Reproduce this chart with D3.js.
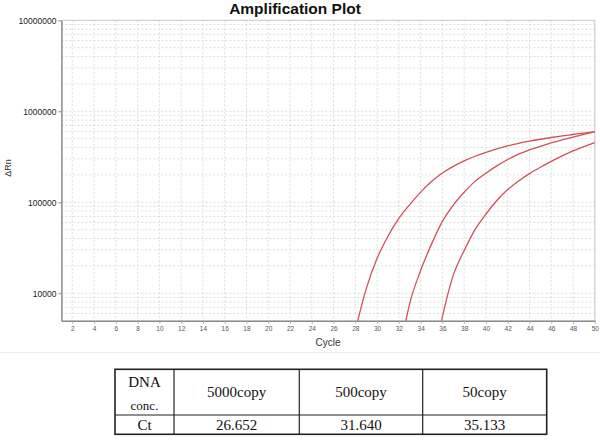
<!DOCTYPE html>
<html>
<head>
<meta charset="utf-8">
<script src="https://cdn.jsdelivr.net/npm/d3@7"></script>
<style>
  html, body { margin: 0; padding: 0; background: #fff; }
  svg { display: block; }
</style>
</head>
<body>
<svg id="chart" width="600" height="447"></svg>
<script>
// ---- data ----
const cycles5000 = [28,29,30,31,32,33,34,35,36,37,38,39,40,41,42,43,44,45,46,47,48,49,50];
const values5000 = [3890,11190,24210,42360,66530,94410,129400,169000,209900,248300,285100,320600,354000,386500,416900,444600,469900,493200,515200,535800,555900,576800,597000];
const cycles500 = [32,33,34,35,36,37,38,39,40,41,42,43,44,45,46,47,48,49,50];
const values500 = [2000,7760,17800,34700,61700,93300,128800,169800,208900,251200,295100,338800,375800,412100,448700,485300,521200,558500,597000];
const cycles50 = [35,36,37,38,39,40,41,42,43,44,45,46,47,48,49,50];
const values50 = [1380,5500,15850,29500,50100,74100,104700,138000,171800,206500,242700,281800,323600,367300,409300,451900];
const xTicks = [2,4,6,8,10,12,14,16,18,20,22,24,26,28,30,32,34,36,38,40,42,44,46,48,50];
const yTicks = [10000,100000,1000000,10000000];
const tableHeader = ["DNA conc.", "5000copy", "500copy", "50copy"];
const tableCt = ["Ct", "26.652", "31.640", "35.133"];

const series = [
  {c: cycles5000, v: values5000},
  {c: cycles500, v: values500},
  {c: cycles50, v: values50}
];

(function () {
// ---- layout ----
const svg = d3.select("#chart");
const pL = 61.4, pR = 594.8, pT = 20.3, pB = 320.7;
const x = d3.scaleLinear().domain([1, 50]).range([pL, pR]);
const y = d3.scaleLog().domain([5000, 10000000]).range([pB, pT]);

// title
svg.append("text")
  .attr("x", 295).attr("y", 13.5)
  .attr("text-anchor", "middle")
  .attr("font-family", "Liberation Sans, Arial, sans-serif")
  .attr("font-weight", "bold")
  .attr("font-size", 15.5)
  .attr("fill", "#111")
  .text("Amplification Plot");

// grid
const grid = svg.append("g");
xTicks.forEach(t => {
  grid.append("line")
    .attr("x1", x(t)).attr("x2", x(t))
    .attr("y1", pT).attr("y2", pB)
    .attr("stroke", "#d4d4d4").attr("stroke-width", 0.8)
    .attr("stroke-dasharray", "2,2");
});
const minorVals = [];
[1000, 10000, 100000, 1000000].forEach(d => {
  for (let m = 1; m <= 9; m++) {
    const v = m * d;
    if (v >= 5000 && v < 10000000) minorVals.push(v);
  }
});
minorVals.forEach(v => {
  grid.append("line")
    .attr("x1", pL).attr("x2", pR)
    .attr("y1", y(v)).attr("y2", y(v))
    .attr("stroke", "#d4d4d4").attr("stroke-width", 0.8)
    .attr("stroke-dasharray", "2,2");
});

// frame (top/right)
svg.append("line").attr("x1", pL).attr("x2", pR).attr("y1", pT).attr("y2", pT)
  .attr("stroke", "#c8c8c8").attr("stroke-width", 1);
svg.append("line").attr("x1", pR).attr("x2", pR).attr("y1", pT).attr("y2", pB)
  .attr("stroke", "#c8c8c8").attr("stroke-width", 1);

// axes
const xAxis = d3.axisBottom(x).tickValues(xTicks).tickSize(3).tickSizeOuter(0);
const gx = svg.append("g").attr("transform", `translate(0,${pB})`).call(xAxis);
gx.select(".domain").attr("stroke", "#8a8a8a").attr("stroke-width", 1.5);
gx.selectAll(".tick line").attr("stroke", "#aaa");
gx.selectAll(".tick text")
  .attr("font-family", "Liberation Sans, Arial, sans-serif")
  .attr("font-size", 6.5).attr("fill", "#555").attr("dy", "0.6em");

const yAxis = d3.axisLeft(y).tickValues(yTicks).tickFormat(d3.format("d")).tickSize(3).tickSizeOuter(0);
const gy = svg.append("g").attr("transform", `translate(${pL},0)`).call(yAxis);
gy.select(".domain").attr("stroke", "#8a8a8a").attr("stroke-width", 1.5);
gy.selectAll(".tick line").attr("stroke", "#888");
gy.selectAll(".tick text")
  .attr("font-family", "Liberation Sans, Arial, sans-serif")
  .attr("font-size", 8.5).attr("fill", "#1a1a1a").attr("x", -5);

// axis titles
svg.append("text")
  .attr("x", 328).attr("y", 346)
  .attr("text-anchor", "middle")
  .attr("font-family", "Liberation Sans, Arial, sans-serif")
  .attr("font-size", 10).attr("fill", "#333")
  .text("Cycle");
svg.append("text")
  .attr("transform", "translate(11,168) rotate(-90)")
  .attr("text-anchor", "middle")
  .attr("font-family", "Liberation Sans, Arial, sans-serif")
  .attr("font-size", 9).attr("fill", "#333")
  .text("ΔRn");

// curves
svg.append("clipPath").attr("id", "clip")
  .append("rect").attr("x", pL).attr("y", pT).attr("width", pR - pL).attr("height", pB - pT);
const line = d3.line()
  .x(d => x(d[0])).y(d => y(d[1]))
  .curve(d3.curveMonotoneX);
const curves = svg.append("g").attr("clip-path", "url(#clip)");
series.forEach(s => {
  curves.append("path")
    .datum(s.c.map((c, i) => [c, s.v[i]]))
    .attr("d", line)
    .attr("fill", "none")
    .attr("stroke", "#d0505a")
    .attr("stroke-width", 1.3);
});

// separator line
svg.append("line").attr("x1", 0).attr("x2", 600).attr("y1", 352.5).attr("y2", 352.5)
  .attr("stroke", "#eeeeee").attr("stroke-width", 1);

// table
const tX = [115, 174, 299.3, 422.7, 546.7];
const tY = [369.3, 415, 434.3];
const tg = svg.append("g");
tg.append("rect").attr("x", tX[0]).attr("y", tY[0])
  .attr("width", tX[4] - tX[0]).attr("height", tY[2] - tY[0])
  .attr("fill", "none").attr("stroke", "#222").attr("stroke-width", 1.6);
tg.append("line").attr("x1", tX[0]).attr("x2", tX[4]).attr("y1", tY[1]).attr("y2", tY[1])
  .attr("stroke", "#222").attr("stroke-width", 1.2);
[1, 2, 3].forEach(i => {
  tg.append("line").attr("x1", tX[i]).attr("x2", tX[i]).attr("y1", tY[0]).attr("y2", tY[2])
    .attr("stroke", "#222").attr("stroke-width", 1.2);
});
const serif = "Liberation Serif, Times New Roman, serif";
tableHeader.forEach((t, i) => {
  const cx = (tX[i] + tX[i + 1]) / 2;
  if (i === 0) {
    const parts = t.split(" ");
    tg.append("text").attr("x", cx).attr("y", 387)
      .attr("text-anchor", "middle").attr("font-family", serif).attr("font-size", 15).attr("fill", "#111")
      .text(parts[0]);
    tg.append("text").attr("x", cx).attr("y", 410)
      .attr("text-anchor", "middle").attr("font-family", serif).attr("font-size", 13).attr("fill", "#111")
      .text(parts[1]);
  } else {
    tg.append("text").attr("x", cx).attr("y", 397)
      .attr("text-anchor", "middle").attr("font-family", serif).attr("font-size", 15).attr("fill", "#111")
      .text(t);
  }
});
tableCt.forEach((t, i) => {
  const cx = (tX[i] + tX[i + 1]) / 2;
  tg.append("text").attr("x", cx).attr("y", 430)
    .attr("text-anchor", "middle").attr("font-family", serif).attr("font-size", 15).attr("fill", "#111")
    .text(t);
});
})();
</script>
</body>
</html>
